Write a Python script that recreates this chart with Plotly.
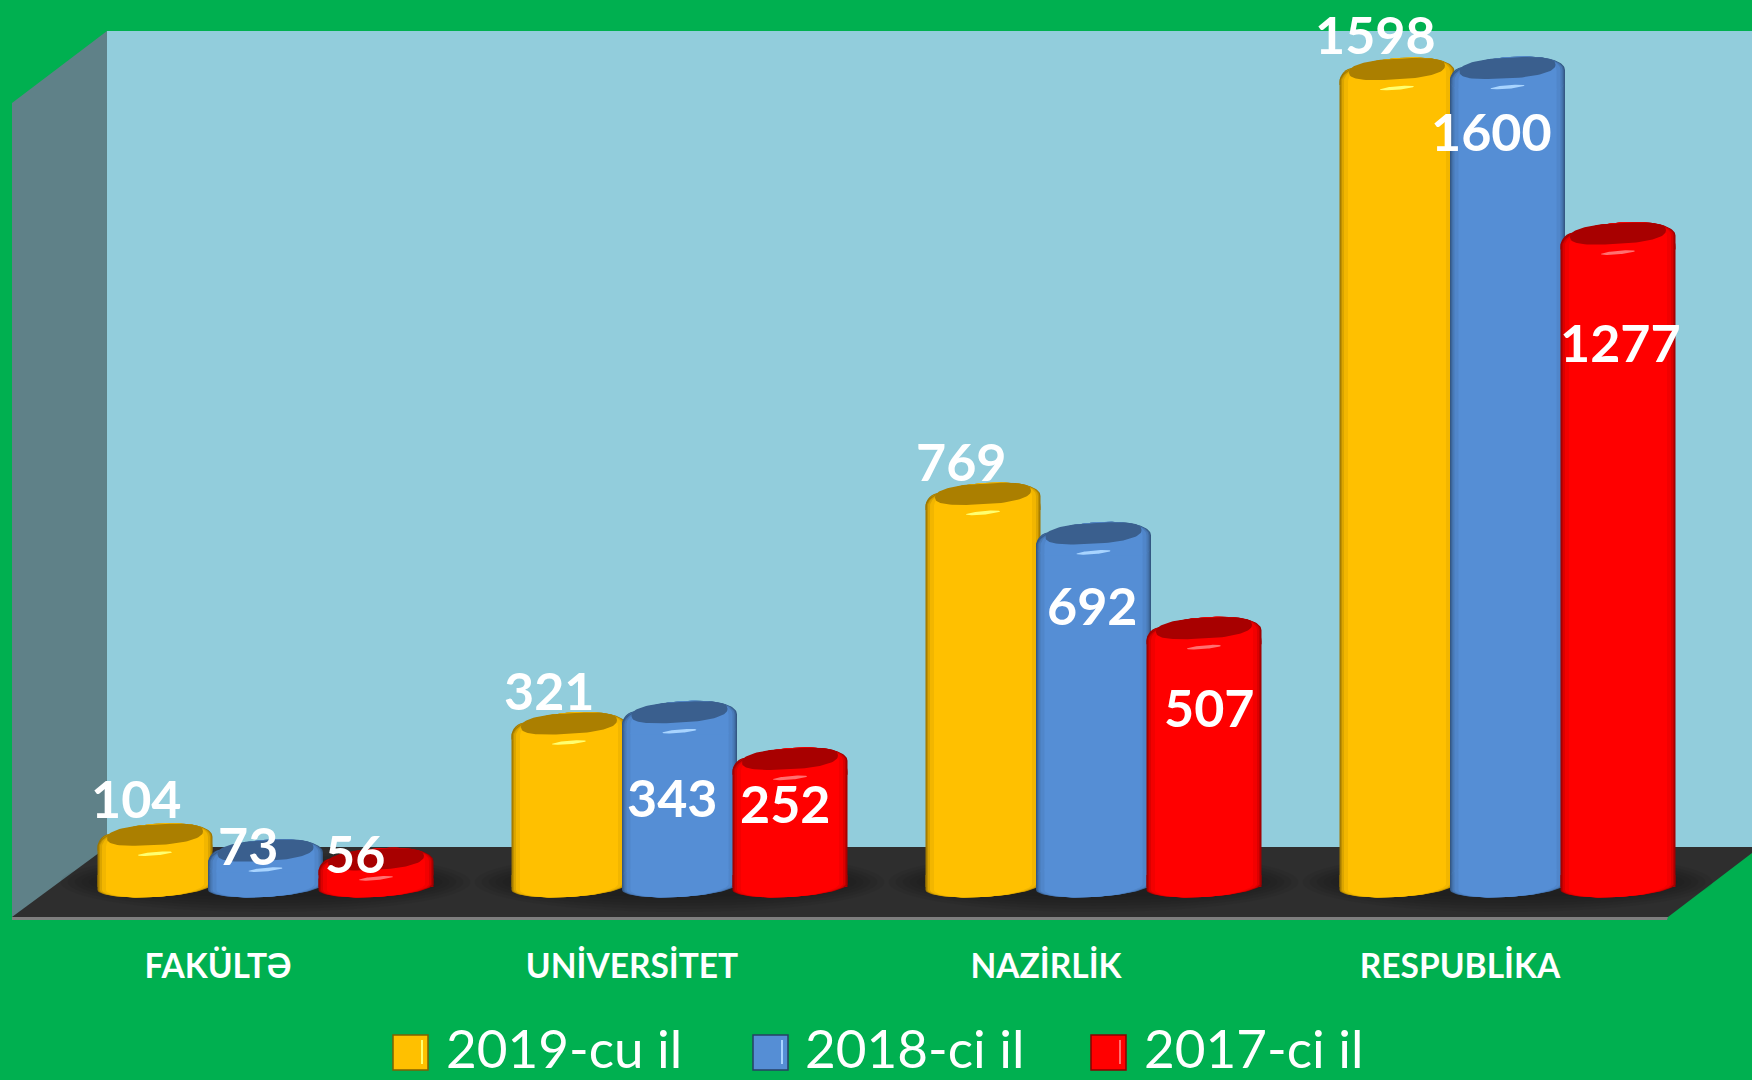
import numpy as np
import plotly.graph_objects as go

categories = ["FAKÜLTƏ", "UNİVERSİTET", "NAZİRLİK", "RESPUBLİKA"]
series_names = ["2019-cu il", "2018-ci il", "2017-ci il"]
values_2019 = [104, 321, 769, 1598]
values_2018 = [73, 343, 692, 1600]
values_2017 = [56, 252, 507, 1277]

main_colors = ["#FFC000", "#558ED5", "#FF0000"]
cap_colors = ["#AB7F00", "#3A5F8E", "#A80000"]
spec_colors = ["#FFFF70", "#A8D4FF", "#FF7070"]
edge_colors = ["#7F6000", "#264064", "#8A0000"]

W, H = 1752, 1080
PX_PER_CAT = 414.0
PX_CAT0 = 218.0
PX_BASE = 887.0
PX_PER_UNIT = 0.5125
PX_FRONT = 917.0
SERIES_DX = [-63.0, 47.5, 158.0]
NEST = [(115, 0.62), (112.5, 0.75), (110, 0.86), (106, 0.95), (98, 1.0)]
# label offsets in pixels from the top-centre of each cylinder
LABEL_OFFS = [
    [(-19, -36), (-18, -5), (-21, -5)],
    [(-20, -32), (-8, 86), (-5, 45)],
    [(-22, -32), (-2, 73), (5, 80)],
    [(-22, -34), (-16, 64), (2, 109)],
]

xr = [(0 - PX_CAT0) / PX_PER_CAT, (W - PX_CAT0) / PX_PER_CAT]
yr = [(PX_BASE - PX_FRONT) / PX_PER_UNIT, PX_BASE / PX_PER_UNIT]


def dx(px):
    return px / PX_PER_CAT


def dv(px):
    """pixels downward -> data units"""
    return -px / PX_PER_UNIT


def mix(hex_col, f):
    r, g, b = [int(hex_col[i:i + 2], 16) for i in (1, 3, 5)]
    return "rgb(%d,%d,%d)" % (r * f, g * f, b * f)


def spow(a, p):
    return np.sign(a) * np.abs(a) ** p


def polys(pieces):
    xs, ys = [], []
    for px, py in pieces:
        xs += list(px) + [None]
        ys += list(py) + [None]
    return xs, ys


def fill_trace(pieces, color, sub):
    xs, ys = polys(pieces)
    return go.Scatter(x=xs, y=ys, mode="lines", fill="toself", fillcolor=color,
                      line=dict(width=0, color=color), hoverinfo="skip",
                      showlegend=False, xaxis="x" + sub, yaxis="y" + sub)


fig = go.Figure()
all_values = [values_2019, values_2018, values_2017]
t_top = np.linspace(0, np.pi, 60)
t_low = np.linspace(np.pi, 2 * np.pi, 60)
t_full = np.linspace(0, 2 * np.pi, 90)

for s, vals in enumerate(all_values):
    sub = "" if s == 0 else str(s + 1)
    centers = [i + dx(SERIES_DX[s]) for i in range(len(categories))]
    for w, f in NEST:
        col = mix(main_colors[s], f)
        fig.add_trace(go.Bar(x=centers, y=vals, width=dx(w),
                             marker=dict(color=col, line=dict(width=0), cornerradius=14),
                             hoverinfo="skip", showlegend=False,
                             xaxis="x" + sub, yaxis="y" + sub))
    # bottom rounding and shoulders, nested for the side shading;
    # each narrower shade closes a little further in, so no seam shows
    for k, (w, f) in enumerate(NEST):
        col = mix(main_colors[s], f)
        a = w / 2
        low, top = [], []
        for c, v in zip(centers, vals):
            xl = c + dx(a * np.cos(t_low))
            yl = dv(0.0 + 3 * (-np.cos(t_low)) - 10.0 * np.sin(t_low))
            rise = min(12.0, v * PX_PER_UNIT * 0.3) + 1.5 * k
            low.append((list(xl) + [c + dx(a), c - dx(a)],
                        list(yl) + [dv(-rise), dv(-rise)]))
            xt = c + dx(a * spow(np.cos(t_top), 0.9))
            yt = v + dv(8 - 5 * np.cos(t_top) - 17.8 * np.sin(t_top))
            close = 17 + 1.5 * k
            top.append((list(xt) + [c - dx(a), c + dx(a)],
                        list(yt) + [v + dv(close), v + dv(close)]))
        fig.add_trace(fill_trace(low, col, sub))
        fig.add_trace(fill_trace(top, col, sub))
    # dark top face
    dark, spec = [], []
    for c, v in zip(centers, vals):
        xd = c + dx(48 * spow(np.cos(t_full), 0.8))
        yd = v + dv(1 - 3.5 * np.cos(t_full) - 10.4 * spow(np.sin(t_full), 0.8))
        dark.append((list(xd), list(yd)))
        xs_ = c + dx(17 * np.cos(t_full))
        ys_ = v + dv(20 - 1.5 * np.cos(t_full) - 1.8 * np.sin(t_full))
        spec.append((list(xs_), list(ys_)))
    fig.add_trace(fill_trace(dark, cap_colors[s], sub))
    fig.add_trace(fill_trace(spec, spec_colors[s], sub))


def fx(px):
    return px / W


def fy(py):
    return 1 - py / H


def path(points):
    return "M " + " L ".join("%.5f,%.5f" % (fx(a), fy(b)) for a, b in points) + " Z"


shapes = [
    dict(type="path", xref="paper", yref="paper", layer="below", line=dict(width=0),
         fillcolor="#92CDDC", path=path([(107, 31), (1760, 31), (1760, 850), (107, 850)])),
    dict(type="path", xref="paper", yref="paper", layer="below", line=dict(width=0),
         fillcolor="#5F8188", path=path([(12, 103), (107, 31), (107, 850), (12, 918)])),
    dict(type="path", xref="paper", yref="paper", layer="below", line=dict(width=0),
         fillcolor="#2E2E2E", path=path([(12, 917), (1668, 917), (1760, 847), (107, 847)])),
    dict(type="path", xref="paper", yref="paper", layer="below", line=dict(width=0),
         fillcolor="#7F7F7F", path=path([(12, 917), (1668, 917), (1667, 920), (12, 920)])),
]
# soft shadows on the floor
for i in range(len(categories)):
    cx = PX_CAT0 + PX_PER_CAT * i + 47.5
    for ra, rb in [(205, 30), (198, 27), (191, 24), (184, 21), (177, 18), (170, 15)]:
        shapes.append(dict(type="circle", xref="paper", yref="paper", layer="below",
                           line=dict(width=0), fillcolor="rgba(0,0,0,0.05)",
                           x0=fx(cx - ra), x1=fx(cx + ra), y0=fy(882 + rb), y1=fy(882 - rb)))

annotations = []
for i in range(len(categories)):
    for s, vals in enumerate(all_values):
        ox, oy = LABEL_OFFS[i][s]
        annotations.append(dict(x=i + dx(SERIES_DX[s]), y=vals[i], xref="x", yref="y",
                                text=str(vals[i]), showarrow=False,
                                xshift=ox, yshift=-oy,
                                xanchor="center", yanchor="middle",
                                font=dict(family="Lato, 'Noto Sans', sans-serif", size=52,
                                          color="white", weight=700)))

# legend row
LEG_BOX_X = [393, 753, 1091]
LEG_TEXT_X = [445, 804, 1143]
for s, name in enumerate(series_names):
    x0 = LEG_BOX_X[s]
    shapes.append(dict(type="rect", xref="paper", yref="paper", x0=fx(x0), x1=fx(x0 + 35),
                       y0=fy(1070), y1=fy(1035), fillcolor=main_colors[s],
                       line=dict(color=edge_colors[s], width=1.5)))
    shapes.append(dict(type="rect", xref="paper", yref="paper", x0=fx(x0 + 28), x1=fx(x0 + 30),
                       y0=fy(1064), y1=fy(1040), fillcolor=spec_colors[s], line=dict(width=0)))
    annotations.append(dict(x=fx(LEG_TEXT_X[s]), y=0, xref="paper", yref="paper",
                            text=name, showarrow=False, xanchor="left", yanchor="bottom",
                            borderpad=0,
                            font=dict(family="Lato, 'Noto Sans', sans-serif", size=53, color="white")))

dom_y = [1 - PX_FRONT / H, 1]
hidden = dict(visible=False, fixedrange=True)
fig.update_layout(
    width=W, height=H, autosize=False,
    margin=dict(l=0, r=0, t=0, b=0),
    paper_bgcolor="#00B050", plot_bgcolor="rgba(0,0,0,0)",
    barmode="overlay", showlegend=False,
    shapes=shapes, annotations=annotations,
    xaxis=dict(domain=[0, 1], range=xr, tickmode="array", tickvals=list(range(len(categories))),
               ticktext=categories, ticks="outside", ticklen=20, tickcolor="rgba(0,0,0,0)",
               showgrid=False, zeroline=False, showline=False,
               tickfont=dict(family="Lato, 'Noto Sans', sans-serif", size=33.5, color="white", weight=700)),
    yaxis=dict(domain=dom_y, range=yr, showgrid=False, zeroline=False, **hidden),
    xaxis2=dict(domain=[0, 1], range=xr, overlaying="x", anchor="y2", **hidden),
    yaxis2=dict(domain=dom_y, range=yr, overlaying="y", anchor="x2", **hidden),
    xaxis3=dict(domain=[0, 1], range=xr, overlaying="x", anchor="y3", **hidden),
    yaxis3=dict(domain=dom_y, range=yr, overlaying="y", anchor="x3", **hidden),
)
fig.write_html("out.html", config=dict(displayModeBar=False),
               post_script="document.documentElement.style.overflow='hidden';"
                           "document.body.style.margin='0';document.body.style.overflow='hidden';"
                           "document.body.style.background='#00B050';")
